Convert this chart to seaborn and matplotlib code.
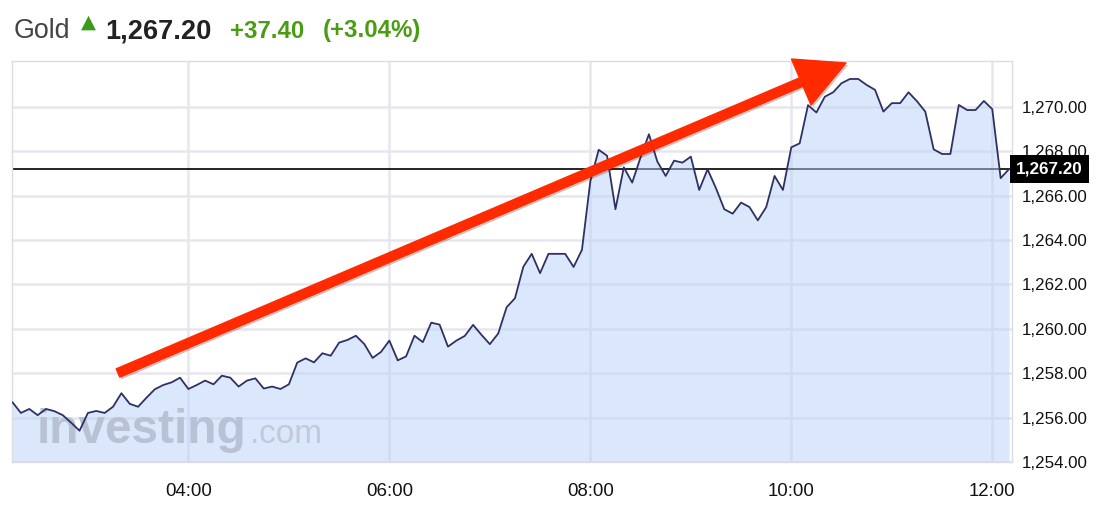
import numpy as np
import pandas as pd
import seaborn as sns
import matplotlib.pyplot as plt
import matplotlib.dates as mdates
import matplotlib.patheffects as pe
from matplotlib.patches import FancyArrowPatch
from matplotlib.ticker import FuncFormatter

# gold price, 5 minute closes from 02:15 to 12:10
prices = [
    1256.69, 1256.21, 1256.39, 1256.11, 1256.39, 1256.29, 1256.11, 1255.77, 1255.41, 1256.21,
    1256.30, 1256.21, 1256.49, 1257.10, 1256.62, 1256.49, 1256.90, 1257.28, 1257.47, 1257.59,
    1257.80, 1257.29, 1257.47, 1257.67, 1257.50, 1257.89, 1257.80, 1257.40, 1257.67, 1257.77,
    1257.31, 1257.40, 1257.29, 1257.50, 1258.48, 1258.67, 1258.49, 1258.90, 1258.79, 1259.38,
    1259.50, 1259.69, 1259.32, 1258.69, 1258.96, 1259.47, 1258.58, 1258.76, 1259.69, 1259.40,
    1260.28, 1260.19, 1259.20, 1259.47, 1259.68, 1260.18, 1259.73, 1259.31, 1259.79, 1260.97,
    1261.38, 1262.80, 1263.38, 1262.51, 1263.38, 1263.38, 1263.38, 1262.79, 1263.56, 1266.65,
    1268.07, 1267.80, 1265.39, 1267.28, 1266.59, 1267.73, 1268.77, 1267.54, 1266.89, 1267.58,
    1267.49, 1267.76, 1266.26, 1267.19, 1266.34, 1265.39, 1265.19, 1265.69, 1265.49, 1264.89,
    1265.48, 1266.89, 1266.26, 1268.18, 1268.36, 1270.08, 1269.75, 1270.46, 1270.66, 1271.07,
    1271.26, 1271.26, 1270.99, 1270.77, 1269.79, 1270.17, 1270.17, 1270.66, 1270.26, 1269.79,
    1268.09, 1267.88, 1267.88, 1270.09, 1269.86, 1269.86, 1270.27, 1269.90, 1266.79, 1267.20,
]
times = pd.date_range("2016-01-08 02:15", periods=len(prices), freq="5min")
last_price = 1267.20
change = "+37.40"
change_pct = "(+3.04%)"
y_ticks = [1254, 1256, 1258, 1260, 1262, 1264, 1266, 1268, 1270]
x_ticks = ["04:00", "06:00", "08:00", "10:00", "12:00"]

df = pd.DataFrame({"time": times, "price": prices})

sns.set_theme(style="white")
plt.rcParams['font.family'] = ['Liberation Sans', 'DejaVu Sans']

W, H = 1120, 522
fig = plt.figure(figsize=(W / 100, H / 100), dpi=100)
ax = fig.add_axes([11.7 / W, 1 - 462 / H, 1000 / W, 401 / H])

ax.axhline(last_price, color="black", linewidth=1.2, zorder=1.5)
ax.fill_between(df["time"], df["price"], 1250, color="#b9d1f7", alpha=0.5, linewidth=0, zorder=2)
sns.lineplot(data=df, x="time", y="price", ax=ax, color="#2d3164", linewidth=1.3, zorder=3)

ax.set_xlim(pd.Timestamp("2016-01-08 02:14:30"), pd.Timestamp("2016-01-08 12:11:36"))
ax.set_ylim(1254.0, 1272.07)
ax.set_xlabel("")
ax.set_ylabel("")

ax.set_xticks([pd.Timestamp("2016-01-08 " + t) for t in x_ticks])
ax.xaxis.set_major_formatter(mdates.DateFormatter("%H:%M"))
ax.set_yticks(y_ticks)
ax.yaxis.set_major_formatter(FuncFormatter(lambda v, p: f"{v:,.2f}"))
ax.yaxis.tick_right()
ax.tick_params(axis="y", length=0, pad=7, labelsize=12.2, colors="#111111")
ax.tick_params(axis="x", length=0, pad=15, labelsize=13.4, colors="#111111")
ax.grid(True, color="#e6e6ef", linewidth=1.8, zorder=0)
for s in ax.spines.values():
    s.set_color("#dcdce4")
    s.set_linewidth(1)

# last price box
ax.text(1.0045, last_price, f"{last_price:,.2f}", transform=ax.get_yaxis_transform(),
        ha="left", va="center", color="white", fontsize=12.3, fontweight="bold",
        bbox=dict(boxstyle="square,pad=0.36", facecolor="black", edgecolor="none"),
        clip_on=False, zorder=6)

# watermark
ax.text(37 / W, 1 - 443 / H, "investing", transform=fig.transFigure, fontsize=34.4,
        fontweight="bold", color="#b9c1d4", va="baseline", ha="left", zorder=2.5)
ax.text(250 / W, 1 - 443 / H, ".com", transform=fig.transFigure, fontsize=24,
        color="#c2c9da", va="baseline", ha="left", zorder=2.5)

# header
fig.text(14 / W, 1 - 38.3 / H, "Gold", fontsize=19.3, color="#444444", va="baseline")
fig.text(88 / W, 1 - 22 / H, "▲", fontsize=14, color="#3a9a1a", ha="center", va="center",
         family="DejaVu Sans")
fig.text(105 / W, 1 - 38.5 / H, f"{last_price:,.2f}", fontsize=19.6, fontweight="bold",
         color="#222222", va="baseline")
fig.text(230 / W, 1 - 37.5 / H, change, fontsize=17.3, fontweight="bold", color="#4a9c12",
         va="baseline")
fig.text(322.7 / W, 1 - 37.5 / H, change_pct, fontsize=17.3, fontweight="bold",
         color="#4a9c12", va="baseline")

# red trend arrow
arrow = FancyArrowPatch((118, H - 373), (846, H - 63), transform=None,
                        arrowstyle="simple,head_length=35,head_width=36,tail_width=6.5",
                        mutation_scale=1, color="#ff2a00", shrinkA=0, shrinkB=0, zorder=10,
                        path_effects=[pe.SimplePatchShadow(offset=(1.5, -1.5), alpha=0.25), pe.Normal()])
fig.add_artist(arrow)

fig.savefig("out.png", dpi=100)
